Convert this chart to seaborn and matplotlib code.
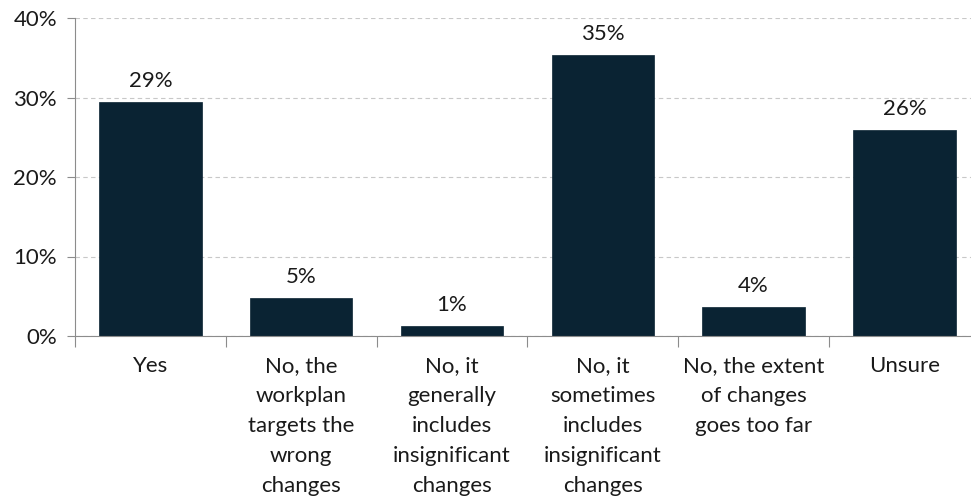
import matplotlib
matplotlib.use("Agg")
import matplotlib.pyplot as plt
import seaborn as sns
import pandas as pd
import numpy as np
from matplotlib.ticker import FixedLocator

categories = [
    "Yes",
    "No, the\nworkplan\ntargets the\nwrong\nchanges",
    "No, it\ngenerally\nincludes\ninsignificant\nchanges",
    "No, it\nsometimes\nincludes\ninsignificant\nchanges",
    "No, the extent\nof changes\ngoes too far",
    "Unsure",
]
values = [29.4, 4.8, 1.3, 35.3, 3.6, 25.9]
value_labels = ["29%", "5%", "1%", "35%", "4%", "26%"]
y_ticks = [0, 10, 20, 30, 40]
y_tick_labels = ["0%", "10%", "20%", "30%", "40%"]

sns.set_style("white")
plt.rcParams["font.family"] = ["Lato", "DejaVu Sans"]

FS = 16
df = pd.DataFrame({"cat": categories, "val": values})

fig = plt.figure(figsize=(9.71, 5.03), dpi=100)
ax = fig.add_axes([75 / 971, (503 - 336) / 503, 904.8 / 971, 318 / 503])

sns.barplot(data=df, x="cat", y="val", color="#0a2333", width=0.68,
            saturation=1, ax=ax, edgecolor="#0a2333", linewidth=0.5)

ax.set_ylim(0, 40)
ax.set_xlim(-0.5, len(categories) - 0.5)
ax.set_yticks(y_ticks)
ax.set_yticklabels(y_tick_labels, fontsize=FS, color="#1a1a1a")
ax.yaxis.grid(True, linestyle=(0, (4, 3)), color="#c8c8c8", linewidth=0.8)
ax.set_axisbelow(True)

ax.tick_params(axis="y", which="major", left=True, length=6, width=0.8,
               color="#8c8c8c", pad=7)
ax.tick_params(axis="x", which="major", bottom=False, labelsize=FS,
               labelcolor="#1a1a1a", pad=11)
ax.xaxis.set_minor_locator(FixedLocator(np.arange(-0.5, len(categories), 1.0)))
ax.tick_params(axis="x", which="minor", bottom=True, length=8, width=0.8,
               color="#8c8c8c")
for lab in ax.get_xticklabels():
    lab.set_va("top")
    lab.set_linespacing(1.62)

for s in ["top", "right"]:
    ax.spines[s].set_visible(False)
for s in ["left", "bottom"]:
    ax.spines[s].set_color("#8c8c8c")
    ax.spines[s].set_linewidth(0.8)

ax.set_xlabel("")
ax.set_ylabel("")

for i, (v, t) in enumerate(zip(values, value_labels)):
    ax.annotate(t, (i, v), xytext=(0, 8), textcoords="offset points",
                ha="center", va="bottom", fontsize=FS, color="#1a1a1a")

fig.savefig("out.png", dpi=100)
